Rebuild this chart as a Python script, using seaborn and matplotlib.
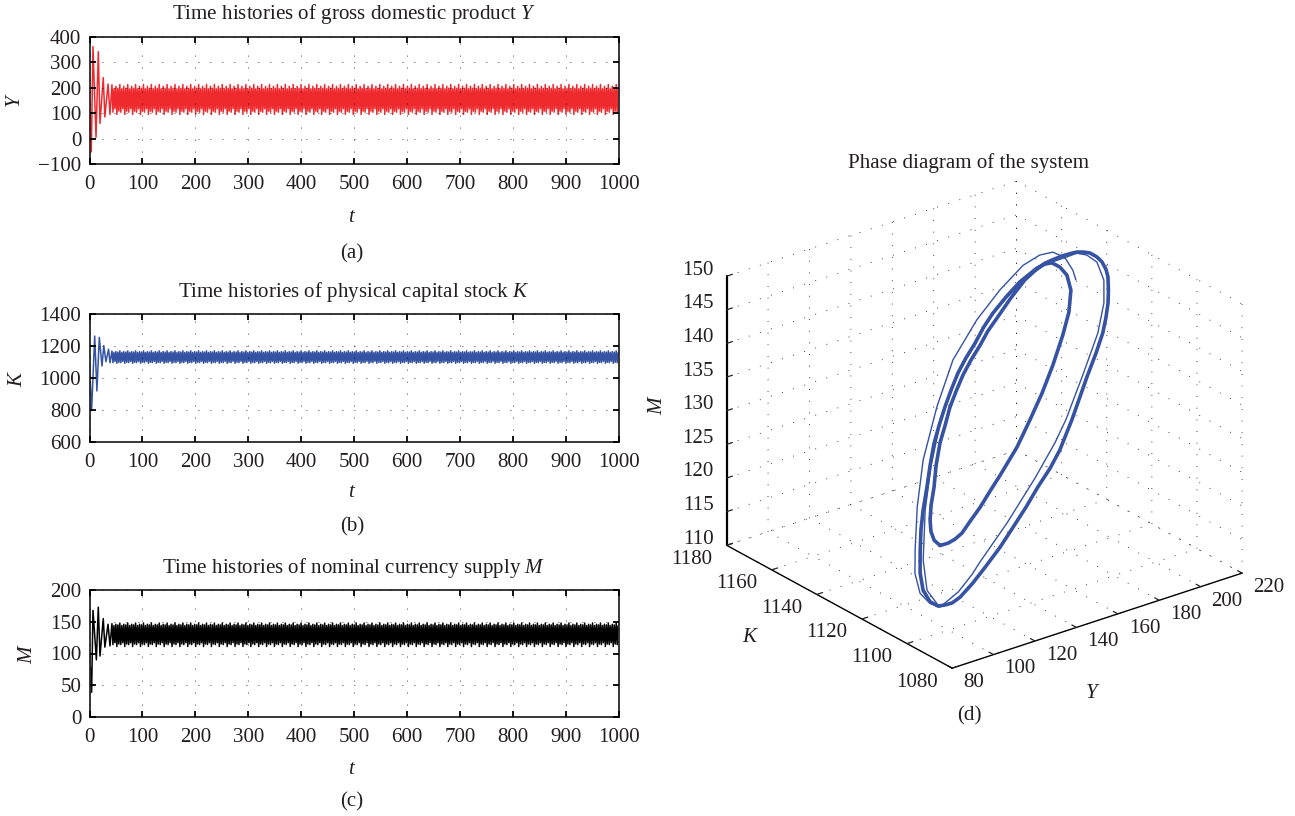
import numpy as np
import seaborn as sns
import matplotlib.pyplot as plt

FIG_W, FIG_H = 1295, 816

# Time series: transient turning points
Y_start_t = [0, 3.4, 6.6, 12.3, 16.6, 19.8, 26, 29, 35, 38.7, 42.4]
Y_start = [155, -52, 362, 5, 342, 60, 240, 85, 215, 95, 212]
K_start_t = [0, 4, 9.8, 14, 18.5, 23.6, 27, 31, 36, 38.7, 42.4]
K_start = [1090, 796, 1262, 919, 1254, 1075, 1202, 1102, 1180, 1095, 1168]
M_start_t = [0, 4, 6.6, 13, 16.6, 19.8, 26, 29, 35, 38.7, 42.4]
M_start = [105, 39, 168, 90, 173, 96, 155, 110, 146, 112, 147]

# Limit cycle turning points, one period
T_SPACING = 1.86
Y_cycle = [104, 196, 118, 206, 95, 198, 108, 213]
K_cycle = [1096, 1160, 1104, 1165, 1092, 1162, 1098, 1170]
M_cycle = [114, 144, 117, 146, 111, 145, 115, 148]

# Phase diagram: main orbit
orbit_Y = [107.4, 111.5, 115.3, 119.4, 124.6, 131.0, 137.6, 144.2, 155.5, 164.8, 173.6, 182.0, 190.2, 195.6,
           199.1, 198.8, 196.3, 192.9, 189.4, 185.1, 175.3, 166.9, 158.8, 152.9, 146.8, 140.8, 135.3, 130.0,
           125.2, 120.3, 115.9, 111.5, 107.6, 103.1, 99.9, 97.0, 94.7, 94.2, 96.3, 99.7, 103.2, 106.8,
           111.3, 118.5, 126.7, 136.2, 144.7, 153.2, 161.2, 169.1, 175.9, 185.1, 197.1, 204.1, 209.7, 212.8,
           215.5, 217.2, 218.4, 218.3, 217.1, 215.3, 212.4, 209.6, 206.2, 202.6, 199.0, 194.3, 189.5, 183.8,
           178.0, 169.2, 160.2, 154.4, 149.0, 143.0, 137.5, 132.3, 127.6, 123.2, 118.8, 114.4, 111.0, 107.5,
           105.4, 104.6, 105.1, 107.4]
orbit_K = [1110.5, 1110.7, 1111.2, 1111.8, 1113.0, 1114.4, 1116.1, 1117.7, 1120.6, 1123.4, 1126.1, 1129.0, 1132.1, 1134.4,
           1136.7, 1138.2, 1139.0, 1139.4, 1139.3, 1138.9, 1137.5, 1135.9, 1134.3, 1132.9, 1131.2, 1129.7, 1128.2, 1126.4,
           1124.7, 1122.8, 1121.0, 1118.7, 1116.5, 1114.1, 1112.1, 1109.8, 1107.7, 1105.9, 1104.7, 1104.3, 1104.4, 1104.6,
           1105.2, 1106.5, 1108.3, 1110.3, 1112.4, 1114.4, 1116.5, 1118.4, 1120.3, 1123.4, 1127.8, 1130.2, 1132.3, 1133.8,
           1135.3, 1136.7, 1138.0, 1138.8, 1139.5, 1140.1, 1140.5, 1140.6, 1140.6, 1140.4, 1140.2, 1139.9, 1139.4, 1138.6,
           1137.7, 1135.9, 1133.8, 1132.5, 1131.0, 1129.5, 1128.0, 1126.3, 1124.7, 1122.8, 1121.0, 1118.7, 1116.5, 1114.6,
           1113.1, 1112.0, 1111.0, 1110.5]
orbit_M = [119.9, 119.8, 119.9, 120.3, 121.3, 122.5, 123.9, 125.3, 127.8, 130.4, 133.0, 135.8, 138.9, 141.3,
           143.8, 145.8, 147.1, 148.0, 148.2, 148.1, 147.3, 146.2, 144.9, 143.7, 142.2, 140.9, 139.5, 137.8,
           136.1, 134.2, 132.3, 129.9, 127.5, 124.9, 122.7, 120.1, 117.6, 115.4, 113.7, 112.8, 112.6, 112.5,
           112.8, 113.8, 115.1, 116.8, 118.5, 120.3, 122.1, 123.7, 125.4, 128.4, 132.7, 135.1, 137.2, 138.8,
           140.5, 142.0, 143.6, 144.6, 145.7, 146.5, 147.3, 147.7, 148.05, 148.2, 148.3, 148.3, 148.3, 147.9,
           147.3, 145.8, 144.1, 143.0, 141.7, 140.4, 139.0, 137.4, 135.8, 133.9, 132.1, 129.6, 127.1, 125.1,
           123.4, 122.0, 120.8, 119.9]

# Phase diagram: thin early trajectory
early_Y = [202.6, 202.2, 199.8, 194.6, 188.0, 178.7, 164.8, 150.3, 134.3, 121.3, 108.7, 100.6, 94.8, 92.2,
           92.4, 96.1, 100.5, 110.9, 119.7, 124.8, 142.2, 160.8, 174.3, 182.2, 195.4, 207.3, 213.5, 216.1, 214.7, 210.7,
           206.1, 198.8, 186.8, 172.2, 156.8, 143.6, 131.5, 121.8, 112.0, 104.1, 97.6, 96.1, 99.8]
early_K = [1137.7, 1138.7, 1140.1, 1140.6, 1140.3, 1139.2, 1136.7, 1133.6, 1129.5, 1124.7, 1119.2, 1114.4, 1110.0, 1107.7,
           1105.6, 1104.6, 1104.2, 1105.7, 1107.6, 1108.8, 1112.8, 1117.4, 1121.0, 1123.4, 1128.0, 1132.3, 1135.3, 1137.7, 1139.5, 1140.3,
           1140.5, 1139.9, 1139.1, 1136.9, 1133.8, 1130.5, 1126.9, 1123.4, 1118.7, 1114.1, 1109.0, 1105.9, 1104.4]
early_M = [144.8, 146.1, 148.0, 149.2, 149.5, 149.1, 147.3, 144.9, 141.3, 136.5, 130.9, 125.6, 120.6, 117.8,
           115.2, 113.5, 112.6, 113.5, 114.9, 116.0, 119.3, 123.3, 126.5, 128.7, 133.2, 137.4, 140.7, 143.4, 145.9, 147.2,
           147.9, 148.0, 148.2, 146.8, 144.5, 141.6, 138.3, 134.7, 129.9, 124.8, 119.0, 115.2, 112.9]

t_ticks = list(range(0, 1001, 100))
panels = [
    ("Time histories of gross domestic product $Y$", "$Y$", Y_start_t, Y_start, Y_cycle, "#ee2a2e",
     (-100, 400), [-100, 0, 100, 200, 300, 400], (37, 164), 14, 218, 254, 16, "(a)"),
    ("Time histories of physical capital stock $K$", "$K$", K_start_t, K_start, K_cycle, "#3552a3",
     (600, 1400), [600, 800, 1000, 1200, 1400], (314, 442), 292, 493, 527, 18, "(b)"),
    ("Time histories of nominal currency supply $M$", "$M$", M_start_t, M_start, M_cycle, "#000000",
     (0, 200), [0, 50, 100, 150, 200], (590, 717), 568, 769, 802, 28, "(c)"),
]

sns.set_theme(style="ticks", rc={"axes.linewidth": 1.3, "xtick.major.width": 1.3, "ytick.major.width": 1.3})
plt.rcParams["font.family"] = ["Liberation Serif", "DejaVu Serif"]
plt.rcParams["mathtext.fontset"] = "custom"
plt.rcParams["mathtext.rm"] = "Liberation Serif"
plt.rcParams["mathtext.it"] = "Liberation Serif:italic"
plt.rcParams["text.color"] = "#231f20"

FS = 15.1
fig = plt.figure(figsize=(FIG_W / 100, FIG_H / 100), dpi=100)


def fig_text(x, y, s, **kw):
    fig.text(x / FIG_W, 1 - y / FIG_H, s, ha="center", va="center", fontsize=FS, **kw)


for title, ylabel, t0, v0, cycle, color, ylim, yticks, (top, bottom), title_y, t_y, tag_y, lab_x, tag in panels:
    ax = fig.add_axes([89.5 / FIG_W, 1 - bottom / FIG_H, 529.5 / FIG_W, (bottom - top) / FIG_H])
    t_steady = np.arange(t0[-1] + T_SPACING, 1000, T_SPACING)
    t = np.concatenate([t0, t_steady])
    v = np.concatenate([v0, np.resize(cycle, len(t_steady))])
    sns.lineplot(x=t, y=v, ax=ax, color=color, linewidth=1.1, estimator=None, sort=False, errorbar=None)
    ax.set_xlim(0, 1000)
    ax.set_ylim(*ylim)
    ax.set_xticks(t_ticks)
    ax.set_yticks(yticks)
    ax.tick_params(direction="in", top=True, right=True, length=4.5, labelsize=FS, pad=6,
                   colors="black", labelcolor="#231f20")
    ax.tick_params(axis="x", pad=8)
    ax.grid(True, color="black", linewidth=0.6, linestyle=(0, (1, 13.4)))
    ax.set_axisbelow(False)
    fig_text(354, title_y, title)
    fig_text(352, t_y, "$t$")
    fig_text(352, tag_y, tag)
    fig_text(lab_x, (top + bottom) / 2, ylabel, rotation=90)

# 3D phase diagram, orthographic view
side = 581
ax3 = fig.add_axes([686 / FIG_W, 1 - 723 / FIG_H, side / FIG_W, side / FIG_H],
                   projection="3d", proj_type="ortho")
ax3.set_facecolor("none")
ax3.view_init(elev=25, azim=-127.8)
ax3.set_box_aspect((367, 368, 297))
ax3.plot(orbit_Y, orbit_K, orbit_M, color="#3552a3", linewidth=2.6, solid_joinstyle="round")
ax3.plot(early_Y, early_K, early_M, color="#3552a3", linewidth=1.0, solid_joinstyle="round")
ax3.set_xlim(80, 220, view_margin=0)
ax3.set_ylim(1080, 1180, view_margin=0)
ax3.set_zlim(110, 150, view_margin=0)
ax3.set_xticks(list(range(80, 221, 20)))
ax3.set_yticks(list(range(1080, 1181, 20)))
ax3.set_zticks(list(range(110, 151, 5)))
ax3.tick_params(labelsize=FS, pad=3, labelcolor="#231f20")
ax3.tick_params(axis="x", pad=2.5)
ax3.tick_params(axis="z", pad=4)
for lab in ax3.xaxis.get_ticklabels():
    lab.set_ha("left")
    lab.set_va("baseline")
for lab in ax3.yaxis.get_ticklabels():
    lab.set_ha("right")
    lab.set_va("baseline")
for lab in ax3.zaxis.get_ticklabels():
    lab.set_va("baseline")
for axis, lw in [(ax3.xaxis, 1.0), (ax3.yaxis, 1.0), (ax3.zaxis, 1.6)]:
    axis.pane.set_facecolor((1, 1, 1, 0))
    axis.pane.set_edgecolor("none")
    axis.line.set_color("black")
    axis.line.set_linewidth(lw)
    axis._axinfo["grid"].update(color="black", linewidth=0.6, linestyle=(0, (1, 13)))
    axis._axinfo["tick"].update(inward_factor=0.0, outward_factor=0.25, linewidth={True: 0.9, False: 0.9}, color="black")

fig_text(969, 163, "Phase diagram of the system")
fig_text(658, 405, "$M$", rotation=90)
fig_text(751, 637, "$K$")
fig_text(1093, 693, "$Y$")
fig_text(969, 716, "(d)")

fig.savefig("out.png", dpi=100)
